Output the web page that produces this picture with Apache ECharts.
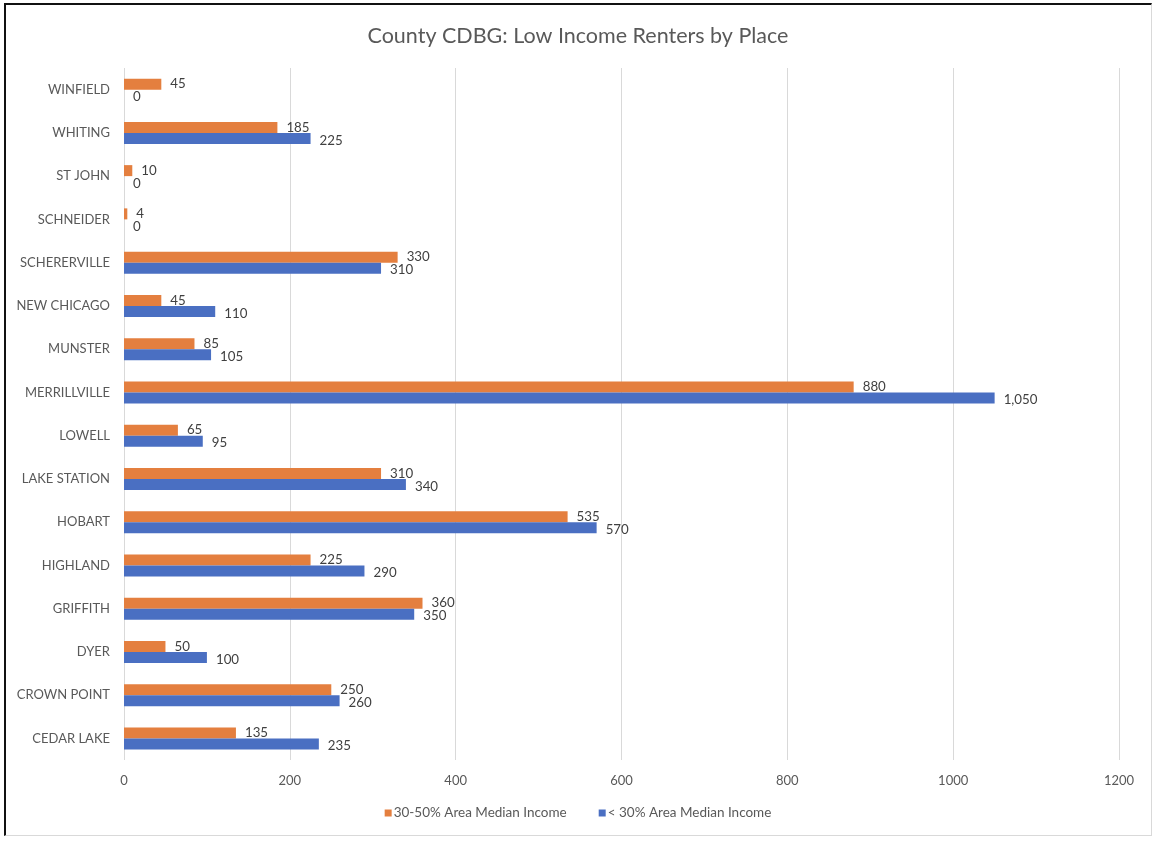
<!DOCTYPE html>
<html>
<head>
<meta charset="utf-8">
<script src="https://cdn.jsdelivr.net/npm/echarts@6/dist/echarts.min.js"></script>
<style>
  html, body { margin: 0; padding: 0; background: #ffffff; }
  #frame {
    position: absolute; left: 4px; top: 3px; width: 1148px; height: 833px;
    border-left: 2px solid #111; border-top: 2px solid #111;
    border-right: 1px solid #d9d9d9; border-bottom: 1px solid #d9d9d9;
    box-sizing: border-box;
  }
  #chart { position: absolute; left: 0; top: 0; width: 1156px; height: 841px; }
</style>
</head>
<body>
<div id="frame"></div>
<div id="chart"></div>
<script>
// Places, listed top to bottom
const places = ['WINFIELD', 'WHITING', 'ST JOHN', 'SCHNEIDER', 'SCHERERVILLE', 'NEW CHICAGO',
  'MUNSTER', 'MERRILLVILLE', 'LOWELL', 'LAKE STATION', 'HOBART', 'HIGHLAND', 'GRIFFITH',
  'DYER', 'CROWN POINT', 'CEDAR LAKE'];
// Renter households at 30-50% of area median income
const ami30to50 = [45, 185, 10, 4, 330, 45, 85, 880, 65, 310, 535, 225, 360, 50, 250, 135];
// Renter households below 30% of area median income
const amiBelow30 = [0, 225, 0, 0, 310, 110, 105, 1050, 95, 340, 570, 290, 350, 100, 260, 235];
const seriesNames = ['30-50% Area Median Income', '< 30% Area Median Income'];
const xTicks = { min: 0, max: 1200, interval: 200 };

const FONT = 'Lato, "Open Sans", sans-serif';
const TEXT = '#595959';
const fmt = v => v.value.toLocaleString('en-US');

const chart = echarts.init(document.getElementById('chart'), null, { renderer: 'canvas' });
chart.setOption({
  animation: false,
  textStyle: { fontFamily: FONT },
  title: {
    text: 'County CDBG: Low Income Renters by Place',
    left: 'center', top: 20,
    textStyle: { fontFamily: FONT, fontSize: 21.5, fontWeight: 'normal', color: TEXT }
  },
  legend: {
    data: seriesNames,
    bottom: 16, left: 'center',
    icon: 'rect', itemWidth: 7, itemHeight: 7, itemGap: 32,
    textStyle: { fontFamily: FONT, fontSize: 13.5, color: TEXT, padding: [0, 0, 0, -3] }
  },
  grid: { left: 124, right: 37, top: 68, bottom: 81, containLabel: false },
  xAxis: {
    type: 'value', min: xTicks.min, max: xTicks.max, interval: xTicks.interval,
    axisLine: { show: false }, axisTick: { show: false },
    splitLine: { lineStyle: { color: '#d9d9d9', width: 1 } },
    axisLabel: { color: TEXT, fontSize: 13, margin: 14, fontFamily: FONT,
      formatter: v => String(v) }
  },
  yAxis: {
    type: 'category', data: places, inverse: true,
    axisLine: { show: false }, axisTick: { show: false },
    axisLabel: { color: TEXT, fontSize: 13, margin: 14, fontFamily: FONT }
  },
  series: [
    {
      name: seriesNames[0], type: 'bar', data: ami30to50,
      barWidth: 11, barGap: '0%',
      itemStyle: { color: '#E47F3F' },
      label: { show: true, position: 'right', distance: 9, offset: [0, 0],
        color: '#404040', fontSize: 13.3, fontFamily: FONT, formatter: fmt }
    },
    {
      name: seriesNames[1], type: 'bar', data: amiBelow30,
      barWidth: 11, barGap: '0%',
      itemStyle: { color: '#4A6FC2' },
      label: { show: true, position: 'right', distance: 9, offset: [0, 2],
        color: '#404040', fontSize: 13.3, fontFamily: FONT, formatter: fmt }
    }
  ]
});
</script>
</body>
</html>
